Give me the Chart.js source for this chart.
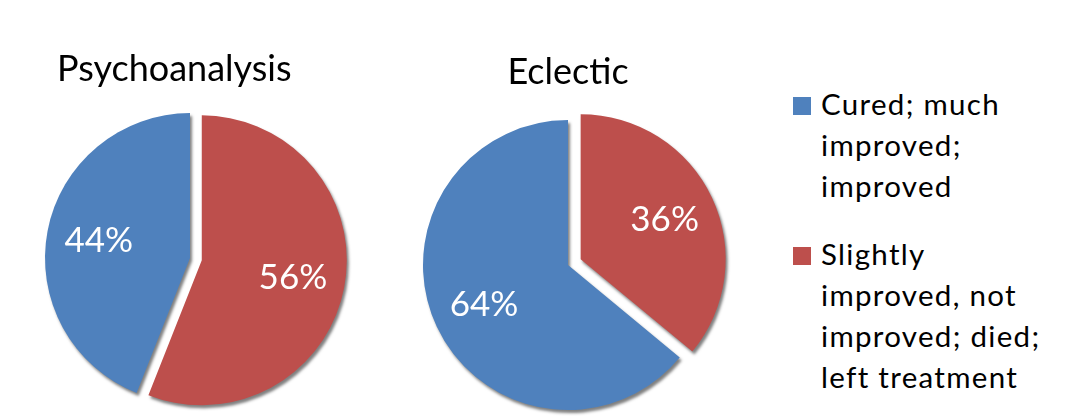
<!DOCTYPE html>
<html>
<head>
<meta charset="utf-8">
<script src="https://cdn.jsdelivr.net/npm/chart.js@4.4.1/dist/chart.umd.min.js"></script>
<style>
  html, body { margin: 0; padding: 0; background: #fff; }
  #wrap { position: relative; width: 1088px; height: 420px; overflow: hidden; font-family: Lato, sans-serif; }
  .box { position: absolute; top: 0; width: 380px; height: 440px; }
  #box1 { left: 0; }
  #box2 { left: 378px; }
  #legend { position: absolute; left: 793px; top: 83px; display: flex; flex-direction: column; gap: 27px; }
  .item { position: relative; padding-left: 28px; font-size: 29.5px; letter-spacing: 1.3px; line-height: 41px; color: #000; }
  .swatch { position: absolute; left: 0; top: 14px; width: 18px; height: 18px; }
</style>
</head>
<body>
<div id="wrap">
  <div class="box" id="box1"><canvas id="pie1"></canvas></div>
  <div class="box" id="box2"><canvas id="pie2"></canvas></div>
  <div id="legend"></div>
</div>
<script>
// categories (legend lines as written in the picture)
const categories = [
    ['Cured; much', 'improved;', 'improved'],
    ['Slightly', 'improved, not', 'improved; died;', 'left treatment']
];
const colors = ['#4f81bd', '#bd4f4c'];

// percentages per therapy
const psychoanalysis = [44, 56];
const eclectic = [64, 36];

// exploded slices with a drop shadow, then white percent labels
const pieDecor = {
    id: 'pieDecor',
    beforeDatasetDraw(chart, args, opts) {
        const ctx = chart.ctx;
        const explode = opts.explode || [];
        args.meta.data.forEach((arc, i) => {
            const p = arc.getProps(['startAngle', 'endAngle'], true);
            const mid = (p.startAngle + p.endAngle) / 2;
            const e = explode[i] || 0;
            ctx.save();
            ctx.translate(Math.cos(mid) * e, Math.sin(mid) * e);
            ctx.shadowColor = 'rgba(0,0,0,0.5)';
            ctx.shadowBlur = 3;
            ctx.shadowOffsetX = 2;
            ctx.shadowOffsetY = 3;
            arc.draw(ctx);
            ctx.restore();
        });
        return false;
    },
    afterDatasetsDraw(chart, args, opts) {
        const ctx = chart.ctx;
        const explode = opts.explode || [];
        const meta = chart.getDatasetMeta(0);
        const data = chart.data.datasets[0].data;
        const total = data.reduce((a, b) => a + b, 0);
        ctx.save();
        ctx.fillStyle = '#fff';
        ctx.font = '35px Lato';
        ctx.textAlign = 'center';
        ctx.textBaseline = 'middle';
        meta.data.forEach((arc, i) => {
            const p = arc.getProps(['x', 'y', 'startAngle', 'endAngle', 'outerRadius'], true);
            const mid = (p.startAngle + p.endAngle) / 2;
            const r = p.outerRadius * 0.64 + (explode[i] || 0);
            ctx.fillText(Math.round(data[i] / total * 100) + '%', p.x + Math.cos(mid) * r, p.y + Math.sin(mid) * r);
        });
        ctx.restore();
    }
};

function makePie(id, title, values, explode, titleOpts, padding) {
    const total = values.reduce((a, b) => a + b, 0);
    return new Chart(document.getElementById(id), {
        type: 'pie',
        data: {
            labels: categories.map(c => c.join(' ')),
            datasets: [{
                data: values,
                backgroundColor: colors,
                borderWidth: 0,
                hoverOffset: 0
            }]
        },
        options: {
            responsive: true,
            maintainAspectRatio: false,
            animation: false,
            radius: 145,
            rotation: -values[0] / total * 360,
            layout: { padding: padding },
            plugins: {
                legend: { display: false },
                tooltip: { enabled: false },
                pieDecor: { explode: explode },
                title: Object.assign({
                    display: true,
                    text: title,
                    color: '#000',
                    font: { family: 'Lato', size: 36, weight: 'normal', lineHeight: 1.2 }
                }, titleOpts)
            }
        },
        plugins: [pieDecor]
    });
}

makePie('pie1', 'Psychoanalysis', psychoanalysis, [0, 12],
    { align: 'start', padding: { top: 48, bottom: 10 } },
    { left: 57, right: 57, top: 0, bottom: 25 });
makePie('pie2', 'Eclectic', eclectic, [0, 14],
    { align: 'center', padding: { top: 51, bottom: 10 } },
    { left: 0, right: 0, top: 0, bottom: 14 });

// legend
const legend = document.getElementById('legend');
categories.forEach((lines, i) => {
    const item = document.createElement('div');
    item.className = 'item';
    const sw = document.createElement('span');
    sw.className = 'swatch';
    sw.style.background = colors[i];
    item.appendChild(sw);
    lines.forEach(t => {
        const l = document.createElement('div');
        l.textContent = t;
        item.appendChild(l);
    });
    legend.appendChild(item);
});
</script>
</body>
</html>
